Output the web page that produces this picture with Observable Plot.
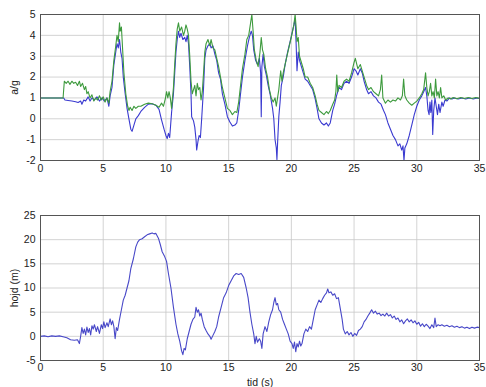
<!DOCTYPE html>
<html><head><meta charset="utf-8">
<script src="https://cdn.jsdelivr.net/npm/d3@7"></script>
<script src="https://cdn.jsdelivr.net/npm/@observablehq/plot@0.6"></script>
<style>
body{margin:0;background:#fff;}
#c{width:486px;}
#c svg{display:block;}
</style></head><body><div id="c"></div>
<script>
const xTicks = [0,5,10,15,20,25,30,35];
const yTicksTop = [-2,-1,0,1,2,3,4,5];
const yTicksBottom = [-5,0,5,10,15,20,25];

// a/g, blue series [t, value]
const blueSeries = [[0,1.0],[1.85,1.0],[1.95,0.9],[2.2,0.88],[2.5,0.85],[2.8,0.82],[3.0,0.78],[3.2,0.85],[3.3,0.7],[3.45,0.9],[3.6,0.85],[3.8,1.05],[3.95,0.85],[4.1,1.0],[4.3,0.9],[4.5,1.05],[4.7,0.85],[4.9,1.0],[5.1,0.85],[5.3,1.0],[5.45,0.6],[5.55,1.1],[5.7,1.5],[5.85,2.6],[6.0,3.2],[6.1,3.6],[6.2,3.4],[6.3,3.8],[6.4,3.2],[6.5,2.9],[6.6,2.0],[6.75,1.2],[6.9,0.5],[7.05,0.0],[7.2,-0.5],[7.3,-0.6],[7.45,-0.3],[7.6,0.0],[7.8,0.15],[8.0,0.35],[8.3,0.55],[8.6,0.7],[8.9,0.72],[9.2,0.65],[9.45,0.45],[9.65,-0.05],[9.85,-0.5],[10.0,-0.8],[10.1,-0.95],[10.2,-0.7],[10.3,-0.9],[10.45,0.3],[10.6,1.2],[10.7,2.2],[10.8,3.2],[10.9,3.8],[11.0,4.2],[11.1,3.9],[11.2,4.1],[11.35,3.8],[11.5,3.9],[11.6,3.7],[11.7,4.0],[11.8,3.6],[11.9,2.5],[12.0,1.2],[12.05,0.1],[12.2,-0.1],[12.3,-0.4],[12.4,-1.0],[12.45,-1.5],[12.55,-1.1],[12.65,-0.8],[12.75,-0.9],[12.85,0.0],[13.0,1.5],[13.1,2.9],[13.2,3.3],[13.35,3.5],[13.5,3.6],[13.6,3.4],[13.75,3.5],[13.9,3.1],[14.05,2.8],[14.2,2.2],[14.35,1.9],[14.5,1.2],[14.7,0.7],[14.9,0.1],[15.1,-0.15],[15.3,-0.35],[15.5,-0.3],[15.65,-0.2],[15.8,0.4],[15.95,1.2],[16.1,2.0],[16.3,2.8],[16.5,3.5],[16.65,3.9],[16.8,4.2],[16.9,4.0],[17.0,3.3],[17.15,2.8],[17.3,2.6],[17.45,2.9],[17.55,2.2],[17.6,0.1],[17.65,2.5],[17.75,3.1],[17.85,2.5],[18.0,2.1],[18.15,1.6],[18.3,1.2],[18.5,0.5],[18.6,0.0],[18.7,-1.0],[18.8,-1.4],[18.85,-1.95],[18.9,-1.2],[19.0,0.1],[19.1,0.8],[19.2,1.6],[19.35,2.0],[19.5,2.6],[19.7,3.2],[19.9,3.7],[20.05,4.1],[20.2,4.5],[20.3,4.8],[20.38,3.6],[20.45,2.3],[20.55,3.2],[20.65,2.8],[20.8,2.5],[20.95,2.2],[21.1,1.9],[21.3,1.8],[21.5,1.6],[21.7,1.4],[21.9,0.95],[22.05,0.5],[22.2,0.0],[22.4,-0.2],[22.6,-0.3],[22.8,-0.2],[22.95,-0.35],[23.1,-0.2],[23.3,0.4],[23.45,0.7],[23.6,1.1],[23.8,1.5],[24.0,1.4],[24.2,1.7],[24.4,1.8],[24.6,1.7],[24.8,2.0],[25.0,2.4],[25.15,2.3],[25.3,2.1],[25.5,2.4],[25.65,2.2],[25.8,1.8],[26.0,1.4],[26.15,1.2],[26.35,1.3],[26.55,1.1],[26.75,1.0],[26.95,0.8],[27.15,0.7],[27.35,0.4],[27.5,0.2],[27.7,-0.2],[27.9,-0.5],[28.1,-0.8],[28.3,-1.0],[28.5,-1.3],[28.65,-1.2],[28.8,-1.5],[28.9,-1.3],[28.98,-2.0],[29.05,-1.4],[29.2,-1.2],[29.4,-0.8],[29.6,-0.3],[29.8,0.2],[30.0,0.6],[30.2,0.9],[30.4,1.1],[30.55,1.3],[30.7,1.5],[30.8,1.1],[30.9,0.4],[30.98,0.2],[31.05,0.8],[31.12,0.3],[31.2,0.9],[31.27,-0.75],[31.35,0.4],[31.45,1.0],[31.55,0.6],[31.65,0.2],[31.75,0.7],[31.85,0.3],[32.0,0.8],[32.1,0.6],[32.25,0.9],[32.4,0.85],[32.6,1.0],[32.8,0.95],[33.0,1.0],[33.3,0.95],[33.6,1.0],[33.9,0.95],[34.2,1.0],[34.5,0.95],[34.8,1.0],[35,0.97]];

// a/g, green series [t, value]
const greenSeries = [[0,1.0],[1.8,1.0],[1.9,1.8],[2.05,1.7],[2.2,1.8],[2.35,1.65],[2.5,1.8],[2.65,1.7],[2.8,1.75],[2.95,1.6],[3.1,1.8],[3.2,1.55],[3.35,1.7],[3.5,1.4],[3.6,1.55],[3.7,1.2],[3.8,1.3],[3.95,1.0],[4.1,1.15],[4.25,0.85],[4.4,1.0],[4.55,0.9],[4.7,1.1],[4.85,0.9],[5.0,1.05],[5.15,0.8],[5.3,1.0],[5.45,0.75],[5.55,1.3],[5.7,1.8],[5.85,2.8],[6.0,3.5],[6.1,4.0],[6.2,3.7],[6.3,4.6],[6.35,4.2],[6.45,4.4],[6.55,3.3],[6.65,2.2],[6.8,1.2],[6.95,0.6],[7.05,0.4],[7.15,0.55],[7.3,0.4],[7.45,0.6],[7.6,0.5],[7.8,0.6],[8.0,0.6],[8.3,0.7],[8.6,0.75],[8.9,0.72],[9.2,0.65],[9.45,0.55],[9.65,0.75],[9.8,0.6],[9.95,0.95],[10.05,1.3],[10.15,1.0],[10.25,1.3],[10.35,1.0],[10.45,0.5],[10.6,1.5],[10.7,2.6],[10.8,3.6],[10.9,4.3],[11.0,4.6],[11.1,4.2],[11.25,4.4],[11.4,4.0],[11.5,4.2],[11.6,4.5],[11.7,4.3],[11.8,4.0],[11.9,3.0],[12.0,1.8],[12.1,1.2],[12.2,1.4],[12.3,1.6],[12.4,1.1],[12.5,1.7],[12.6,1.4],[12.7,1.5],[12.8,0.9],[12.9,1.3],[13.0,2.2],[13.1,3.2],[13.2,3.6],[13.35,3.8],[13.5,3.5],[13.6,3.8],[13.75,3.4],[13.9,3.3],[14.05,2.9],[14.2,2.5],[14.35,2.0],[14.5,1.5],[14.7,1.0],[14.9,0.5],[15.1,0.4],[15.3,0.2],[15.5,0.35],[15.65,0.3],[15.8,0.8],[15.95,1.6],[16.1,2.4],[16.3,3.1],[16.45,3.8],[16.6,4.0],[16.75,4.6],[16.85,5.0],[16.95,4.2],[17.05,3.3],[17.2,2.8],[17.35,2.5],[17.5,3.2],[17.6,3.9],[17.7,3.3],[17.8,3.1],[17.95,2.4],[18.1,2.0],[18.25,1.4],[18.4,1.0],[18.55,0.8],[18.7,1.0],[18.8,0.6],[18.9,1.0],[19.0,1.4],[19.15,2.3],[19.25,1.8],[19.35,2.2],[19.5,2.6],[19.65,3.0],[19.8,3.4],[19.95,3.8],[20.1,4.2],[20.2,4.5],[20.3,5.0],[20.38,4.4],[20.45,3.7],[20.55,3.9],[20.65,3.0],[20.8,2.7],[20.95,2.4],[21.1,2.0],[21.3,2.0],[21.5,1.7],[21.7,1.5],[21.9,1.1],[22.05,0.7],[22.2,0.4],[22.4,0.3],[22.6,0.2],[22.8,0.35],[22.95,0.25],[23.1,0.4],[23.3,0.7],[23.45,0.9],[23.55,1.3],[23.62,2.1],[23.7,1.3],[23.8,1.6],[24.0,1.5],[24.2,1.8],[24.4,1.9],[24.6,1.8],[24.8,2.2],[25.0,2.7],[25.1,2.9],[25.3,2.4],[25.5,2.6],[25.65,2.3],[25.8,2.0],[26.0,1.6],[26.15,1.4],[26.35,1.5],[26.55,1.3],[26.75,1.2],[26.95,1.1],[27.1,1.4],[27.2,2.1],[27.3,1.0],[27.5,0.75],[27.7,0.9],[27.9,0.8],[28.1,0.9],[28.3,0.85],[28.5,1.0],[28.7,0.9],[28.85,1.1],[28.95,1.9],[29.05,1.1],[29.2,0.9],[29.4,0.75],[29.6,0.65],[29.8,0.75],[30.0,0.85],[30.2,1.0],[30.4,1.2],[30.55,1.4],[30.7,2.2],[30.8,1.5],[30.9,1.1],[31.0,1.3],[31.1,1.7],[31.2,1.1],[31.3,1.3],[31.4,1.0],[31.5,1.9],[31.6,1.1],[31.7,1.3],[31.8,1.0],[31.9,1.5],[32.0,1.0],[32.15,1.1],[32.3,0.9],[32.5,1.0],[32.7,0.95],[32.9,1.02],[33.2,0.96],[33.5,1.02],[33.8,0.97],[34.1,1.02],[34.4,0.97],[34.7,1.02],[35,0.98]];

// höjd (m) [t, value]
const heightSeries = [[0,0.0],[0.3,0.1],[0.6,-0.1],[0.9,0.1],[1.2,0.0],[1.5,0.1],[1.8,-0.1],[2.1,-0.3],[2.4,-0.7],[2.7,-0.8],[2.95,-0.7],[3.1,-1.5],[3.2,0.0],[3.3,1.8],[3.4,0.6],[3.5,1.5],[3.6,0.3],[3.7,1.9],[3.8,0.8],[3.9,1.6],[4.0,0.3],[4.1,2.2],[4.2,1.5],[4.3,2.4],[4.45,1.0],[4.55,2.0],[4.7,0.6],[4.85,2.4],[4.95,1.6],[5.05,3.0],[5.15,1.8],[5.3,2.8],[5.4,2.0],[5.55,3.6],[5.65,2.4],[5.75,3.2],[5.85,2.0],[5.95,-0.5],[6.05,1.8],[6.15,1.2],[6.3,3.5],[6.45,5.5],[6.6,7.5],[6.75,8.5],[6.9,10.0],[7.05,11.5],[7.2,14.0],[7.4,16.0],[7.6,18.5],[7.75,19.5],[7.9,20.0],[8.1,20.2],[8.3,20.6],[8.5,21.0],[8.7,21.2],[8.9,21.4],[9.05,21.2],[9.2,21.3],[9.4,20.3],[9.55,19.0],[9.7,17.5],[9.9,16.5],[10.05,15.5],[10.2,13.0],[10.4,10.0],[10.6,6.0],[10.8,2.5],[10.95,0.5],[11.1,-1.0],[11.25,-3.0],[11.35,-3.8],[11.45,-2.5],[11.55,-2.8],[11.7,-0.5],[11.85,1.0],[12.0,2.5],[12.15,3.5],[12.3,4.0],[12.4,6.0],[12.5,5.0],[12.6,5.5],[12.7,4.2],[12.8,4.8],[12.9,3.5],[13.05,2.0],[13.2,1.2],[13.35,0.5],[13.5,0.0],[13.6,-0.6],[13.75,0.2],[13.9,1.0],[14.05,2.0],[14.2,4.0],[14.4,6.0],[14.6,8.0],[14.8,9.0],[15.0,10.5],[15.2,11.5],[15.4,12.5],[15.6,13.0],[15.8,12.8],[16.0,13.0],[16.2,12.2],[16.4,10.0],[16.55,8.0],[16.7,5.0],[16.85,2.5],[17.0,0.5],[17.1,-1.5],[17.2,0.0],[17.3,-1.2],[17.45,-0.5],[17.55,-1.0],[17.65,-2.5],[17.75,0.5],[17.9,2.0],[18.05,1.0],[18.2,3.0],[18.35,4.5],[18.5,5.5],[18.6,7.0],[18.7,8.0],[18.8,6.5],[18.9,6.8],[19.0,5.5],[19.15,5.0],[19.3,3.5],[19.45,2.5],[19.6,1.5],[19.75,0.5],[19.9,-1.0],[20.05,-1.5],[20.15,-2.5],[20.25,-1.2],[20.35,-3.2],[20.45,-1.5],[20.55,-2.2],[20.65,-1.0],[20.75,-2.0],[20.85,-1.5],[21.0,0.5],[21.15,1.5],[21.3,1.0],[21.45,2.0],[21.6,1.5],[21.75,3.5],[21.9,5.5],[22.05,6.5],[22.2,7.5],[22.35,7.0],[22.5,7.8],[22.65,8.5],[22.8,9.0],[22.9,9.8],[23.0,9.0],[23.15,9.2],[23.3,8.5],[23.45,8.8],[23.6,7.8],[23.75,8.0],[23.85,6.5],[23.95,5.0],[24.05,3.5],[24.15,1.5],[24.3,0.5],[24.45,1.0],[24.6,0.3],[24.75,0.8],[24.9,0.0],[25.05,0.6],[25.2,0.2],[25.35,1.2],[25.5,1.5],[25.65,2.0],[25.8,3.0],[25.95,3.5],[26.1,4.2],[26.25,4.8],[26.4,5.5],[26.55,4.8],[26.7,5.2],[26.85,4.6],[27.0,4.8],[27.15,4.3],[27.3,4.6],[27.45,4.2],[27.6,4.8],[27.75,4.2],[27.9,4.5],[28.05,3.8],[28.2,4.2],[28.35,3.5],[28.5,3.8],[28.65,3.0],[28.8,3.4],[28.95,2.6],[29.1,3.2],[29.25,3.6],[29.4,3.0],[29.55,3.4],[29.7,2.8],[29.85,3.2],[30.0,2.5],[30.15,2.9],[30.3,2.1],[30.45,2.6],[30.6,2.0],[30.75,2.5],[30.9,2.1],[31.05,1.6],[31.2,2.4],[31.35,1.8],[31.45,3.8],[31.55,2.0],[31.7,2.4],[31.85,2.2],[32.0,2.4],[32.2,2.1],[32.4,2.3],[32.6,2.0],[32.8,2.2],[33.0,1.9],[33.2,2.1],[33.4,1.8],[33.6,2.0],[33.8,1.7],[34.0,1.9],[34.2,1.6],[34.4,1.9],[34.6,1.7],[34.8,1.9],[35.0,1.8]];

const font = "'Liberation Sans', Arial, Helvetica, sans-serif";
const gridStyle = {stroke: "#c8c8c8", strokeOpacity: 1, strokeWidth: 0.8};
const fmt = d => String(d);

const accelChart = Plot.plot({
  width: 486, height: 200,
  marginLeft: 40, marginRight: 7, marginTop: 14, marginBottom: 40,
  style: {fontFamily: font, fontSize: "10.5px", background: "#fff", color: "#222"},
  x: {domain: [0, 35]},
  y: {domain: [-2, 5]},
  marks: [
    Plot.gridX(xTicks, gridStyle),
    Plot.gridY(yTicksTop, gridStyle),
    Plot.axisX({ticks: xTicks, tickFormat: fmt, tickSize: 0, tickPadding: 4, label: null}),
    Plot.axisY({ticks: yTicksTop, tickFormat: fmt, tickSize: 0, tickPadding: 5, label: "a/g", labelAnchor: "center", labelOffset: 30, labelArrow: "none"}),
    Plot.line(blueSeries, {x: d => d[0], y: d => d[1], stroke: "#3a3ad0", strokeWidth: 1.1}),
    Plot.line(greenSeries, {x: d => d[0], y: d => d[1], stroke: "#3d9a3d", strokeWidth: 1.1}),
    Plot.frame({stroke: "#555", strokeWidth: 1})
  ]
});

const heightChart = Plot.plot({
  width: 486, height: 187,
  marginLeft: 40, marginRight: 7, marginTop: 15, marginBottom: 27,
  style: {fontFamily: font, fontSize: "10.5px", background: "#fff", color: "#222"},
  x: {domain: [0, 35]},
  y: {domain: [-5, 25]},
  marks: [
    Plot.gridX(xTicks, gridStyle),
    Plot.gridY(yTicksBottom, gridStyle),
    Plot.axisX({ticks: xTicks, tickFormat: fmt, tickSize: 0, tickPadding: 3, label: "tid (s)", labelAnchor: "center", labelOffset: 25, labelArrow: "none"}),
    Plot.axisY({ticks: yTicksBottom, tickFormat: fmt, tickSize: 0, tickPadding: 5, label: "hojd (m)", labelAnchor: "center", labelOffset: 30, labelArrow: "none"}),
    Plot.line(heightSeries, {x: d => d[0], y: d => d[1], stroke: "#4848c8", strokeWidth: 1.1}),
    Plot.frame({stroke: "#555", strokeWidth: 1})
  ]
});

document.getElementById("c").append(accelChart, heightChart);
</script></body></html>
